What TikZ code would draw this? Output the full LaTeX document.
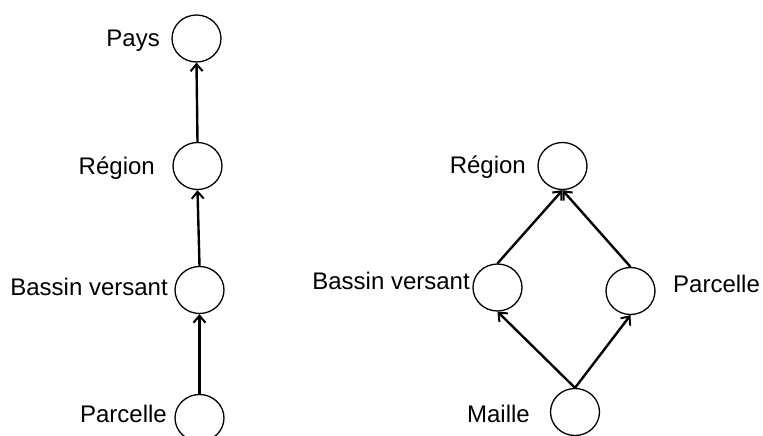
\documentclass[tikz,border=0pt]{standalone}
\usepackage{fontspec}
\setmainfont{Liberation Sans}
\usetikzlibrary{shapes.geometric,arrows.meta}
\begin{document}
\begin{tikzpicture}[x=1pt,y=-1pt,
  level/.style={draw=black,line width=1.3pt,ellipse,minimum width=49pt,minimum height=47pt,inner sep=0pt,fill=white},
  lbl/.style={font=\fontsize{24}{28}\selectfont,inner sep=0pt},
  link/.style={line width=2.4pt,-{Straight Barb[length=7pt,width=12pt,line width=2pt]}}]
\path[use as bounding box] (0,0) rectangle (763,436);
% left hierarchy
\node[level] (pays) at (196.5,38.5) {};
\node[level] (regL) at (197.5,166) {};
\node[level] (basL) at (199.5,290) {};
\node[level] (parL) at (199.5,418) {};
\node[lbl,anchor=base east] (tPays) at (160,47) {Pays};
\node[lbl,anchor=base east] (tRegL) at (155,174) {Région};
\node[lbl,anchor=base east] (tBasL) at (168,295) {Bassin versant};
\node[lbl,anchor=base east] (tParL) at (167,422) {Parcelle};
\draw[link] (parL.north) -- (basL.south);
\draw[link] (basL.north) -- (regL.south);
\draw[link] (regL.north) -- (pays.south);
% right lattice
\node[level] (regR) at (562.5,166) {};
\node[level] (basR) at (497.5,287.5) {};
\node[level] (parR) at (630.5,291) {};
\node[level] (mai) at (575,412) {};
\node[lbl,anchor=base east] (tRegR) at (526,173) {Région};
\node[lbl,anchor=base east] (tBasR) at (470,289) {Bassin versant};
\node[lbl,anchor=base west] (tParR) at (673,292) {Parcelle};
\node[lbl,anchor=base east] (tMai) at (530,422) {Maille};
\draw[link] (mai.north) -- (basR.south);
\draw[link] (mai.north) -- (parR.south);
\draw[link] (basR.north) -- (regR.south);
\draw[link] (parR.north) -- (regR.south);
\end{tikzpicture}
\end{document}
